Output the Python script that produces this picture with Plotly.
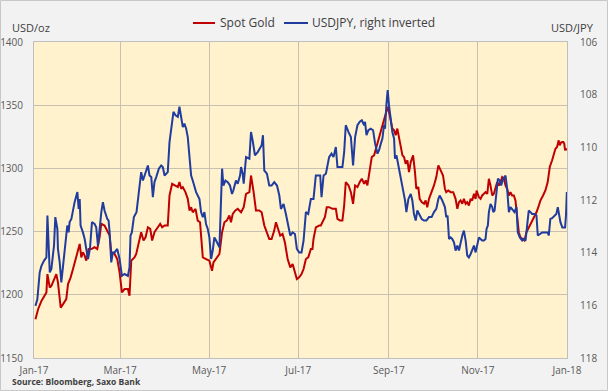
import pandas as pd
import plotly.graph_objects as go

# ---- data ----
# day offsets from 2017-01-01
gold_day = [1.0, 2.8, 5.1, 7.3, 8.5, 9.2, 10.8, 11.9, 13.7, 15.3, 16.4, 18.3, 19.9, 22.1, 23.3, 25.1, 26.7, 28.3, 30.1, 31.3,
            32.4, 33.5, 34.7, 35.8, 37.4, 39.2, 41.5, 43.3, 44.9, 46.1, 48.3, 50.6, 51.8, 52.9, 55.2, 57.0, 58.6, 60.2, 62.0,
            64.3, 65.4, 66.6, 68.8,
            70.0, 71.8, 73.4, 75.0, 76.4, 78.0, 79.6, 80.9, 82.5, 84.8, 86.4, 87.8, 89.4, 91.6, 92.8, 94.6, 96.9, 98.5, 99.6,
            100.8, 101.9, 103.7, 105.3, 106.5, 107.6, 108.7, 110.6, 112.1, 113.7, 115.6, 117.8, 120.1, 121.3, 121.9, 122.9,
            124.7, 127.0, 128.8, 130.4, 132.0, 133.8, 134.9, 136.1, 137.9, 139.5, 140.6,
            141.8, 143.6, 145.2, 147.5, 148.6, 150.4, 152.0, 154.3, 155.9, 157.7, 159.5, 161.1, 162.7, 164.5, 165.7, 167.3,
            168.6, 170.2, 171.8, 173.7, 175.5, 177.1, 178.2, 180.0, 181.6, 183.2, 184.6, 186.2, 187.8, 189.6, 190.7, 191.4,
            193.0, 195.3, 196.4, 198.3, 199.2, 200.5, 202.1, 204.4, 206.7, 207.8, 209.6, 211.2, 212.4,
            213.5, 215.4, 217.0, 218.5, 219.9, 221.5, 223.1, 224.5, 226.1, 227.2, 228.3, 229.5, 231.3, 232.9, 234.5, 236.3,
            238.1, 239.7, 241.3, 242.2, 243.6, 245.4, 246.6, 247.7, 248.8, 250.0, 251.1, 252.3, 253.4, 254.5, 255.7, 256.8,
            258.0, 259.6, 260.9, 261.8, 263.2, 264.1, 265.5, 267.1, 268.2, 269.3, 270.5, 272.3, 273.9, 275.5, 276.9, 278.5,
            280.1, 281.4, 282.3, 283.7,
            285.3, 287.1, 288.7, 289.9, 291.0, 292.1, 293.3, 294.4, 295.6, 296.7, 297.8, 299.0, 300.1, 301.3, 302.4, 303.1,
            304.7, 305.8, 306.9, 308.1, 309.2, 310.4, 311.5, 312.6, 313.8, 314.9, 316.1, 317.2, 318.3, 319.5, 320.6, 321.8,
            322.9, 324.0, 325.2, 326.3, 327.4, 328.6, 329.7, 330.9, 332.0, 333.1, 335.0, 335.9, 337.2, 338.8, 340.4, 342.3,
            344.1, 345.7, 346.8, 348.6, 350.2, 351.8, 353.2, 354.8, 355.9, 357.1, 358.2, 359.3, 360.0, 360.9, 361.8, 362.5,
            363.1, 363.7, 364.3, 364.9]
gold_usd = [1180.7, 1188.6, 1195.2, 1199.2, 1201.9, 1216.4, 1205.8, 1207.1, 1212.4, 1216.4, 1209.8, 1189.9, 1192.6, 1196.6,
            1208.5, 1213.8, 1220.4, 1227.0, 1233.6, 1240.2, 1229.6, 1233.6, 1231.0, 1227.0, 1236.2, 1236.2, 1237.6, 1236.2,
            1245.5, 1256.1, 1254.8, 1249.5, 1246.8, 1233.6, 1232.3, 1228.3, 1217.7, 1201.9, 1204.5, 1204.5, 1199.2, 1227.0,
            1229.6,
            1232.3, 1241.5, 1249.5, 1242.9, 1245.5, 1253.4, 1252.1, 1242.9, 1249.5, 1253.4, 1256.1, 1253.4, 1254.8, 1254.8,
            1278.6, 1287.8, 1286.5, 1285.2, 1289.2, 1283.9, 1285.2, 1281.2, 1275.9, 1266.7, 1269.3, 1265.3, 1268.0, 1258.7,
            1257.4, 1229.6, 1228.3, 1227.0, 1221.7, 1219.0, 1225.7, 1228.3, 1232.3, 1249.5, 1257.4, 1258.7, 1262.7, 1257.4,
            1264.0, 1266.7, 1268.0, 1266.7,
            1265.3, 1269.3, 1279.9, 1281.2, 1294.4, 1281.2, 1266.7, 1266.7, 1265.3, 1254.8, 1249.5, 1244.2, 1244.2, 1250.8,
            1257.4, 1252.1, 1246.8, 1248.1, 1241.5, 1228.3, 1221.7, 1224.3, 1220.4, 1212.4, 1213.8, 1216.4, 1220.4, 1228.3,
            1229.6, 1236.2, 1236.2, 1244.2, 1253.4, 1254.8, 1254.8, 1258.7, 1261.4, 1269.3, 1269.3, 1268.0, 1268.0, 1260.1,
            1258.7, 1258.7, 1270.6,
            1289.2, 1286.5, 1281.2, 1272.0, 1286.5, 1285.2, 1289.2, 1291.8, 1287.8, 1290.5, 1286.5, 1294.4, 1309.0, 1310.3,
            1316.9, 1323.5, 1331.5, 1336.8, 1343.4, 1348.7, 1342.1, 1331.5, 1330.2, 1326.2, 1331.5, 1323.5, 1319.6, 1310.3,
            1309.0, 1303.7, 1306.4, 1297.1, 1305.0, 1310.3, 1297.1, 1283.9, 1285.2, 1275.9, 1273.3, 1272.0, 1274.6, 1269.3,
            1275.9, 1281.2, 1286.5, 1293.1, 1302.4, 1298.4, 1294.4, 1283.9, 1281.2, 1282.5,
            1281.2, 1281.2, 1275.9, 1268.0, 1273.3, 1274.6, 1272.0, 1275.9, 1272.0, 1273.3, 1270.6, 1275.9, 1274.6, 1279.9,
            1275.9, 1282.5, 1277.2, 1275.9, 1278.6, 1279.9, 1281.2, 1279.9, 1291.8, 1286.5, 1278.6, 1279.9, 1285.2, 1289.2,
            1286.5, 1289.2, 1293.1, 1291.8, 1286.5, 1283.9, 1278.6, 1281.2, 1278.6, 1278.6, 1274.6, 1262.7, 1249.5, 1245.5,
            1244.2, 1242.9, 1249.5, 1253.4, 1257.4, 1261.4, 1265.3, 1270.6, 1274.6, 1278.6, 1282.5, 1289.2, 1301.1, 1306.4,
            1311.6, 1315.6, 1316.9, 1322.2, 1318.3, 1320.4, 1320.9, 1320.9, 1319.6, 1314.3, 1315.6, 1314.3]

jpy_day = [1.0, 2.3, 3.9, 5.1, 6.9, 8.5, 9.2, 10.1, 10.8, 11.9, 13.0, 13.7, 14.6, 16.0, 16.4, 17.6, 18.7, 19.9, 21.0, 22.8,
           23.7, 24.4, 25.6, 26.7, 27.8, 29.7, 30.6, 31.3, 31.9, 33.5, 34.7, 35.8, 37.0, 38.3, 39.7, 41.5, 42.6, 43.8, 44.9,
           46.1, 47.2, 48.3, 50.2, 51.1, 51.8, 52.9, 54.0, 55.2, 57.0, 58.6, 60.2, 62.0, 64.3, 65.4, 66.1, 67.0, 68.4, 70.2,
           71.8, 73.4, 74.6, 75.7, 76.8, 78.0, 79.1, 80.3, 81.4, 82.5, 83.7, 85.5, 87.1, 88.2, 89.4, 91.6, 92.8, 94.6, 95.5,
           96.9, 98.5, 99.6, 100.8, 101.9, 103.0, 104.2, 105.3, 106.5, 107.6, 108.7, 109.9, 111.0, 113.3, 114.4, 115.6,
           116.7, 117.8, 119.0, 120.1, 121.3, 122.4, 123.5, 124.7, 125.8, 127.0, 128.8, 129.7, 131.1, 132.7, 134.2, 135.6,
           136.5, 138.3, 139.5, 141.1,
           141.8, 142.9, 143.6, 144.5, 145.2, 147.5, 148.6, 149.7, 151.3, 153.2, 155.0, 155.9, 156.8, 157.7, 159.5, 161.1,
           162.7, 164.5, 166.4, 168.0, 169.1, 170.9, 172.5, 174.1, 175.5, 177.1, 178.7, 180.0, 181.6, 183.2, 184.6, 186.2,
           187.8, 189.6, 191.4, 193.0, 194.6, 196.0, 196.9, 198.3, 199.9, 201.0, 202.1, 203.7, 205.1, 206.7, 207.8, 209.6,
           211.2, 212.4,
           213.5, 215.4, 217.0, 218.5, 219.9, 221.5, 223.1, 224.5, 226.1, 226.7, 227.7, 229.0, 230.6, 232.2, 233.6, 235.2,
           236.3, 237.5, 238.6, 239.7, 240.4, 241.3, 242.2, 243.1, 244.3, 245.4, 246.6, 247.2, 248.2, 249.5, 251.1, 252.7,
           254.1, 255.0, 256.4, 258.0, 259.1, 260.2, 261.4, 262.5, 264.1, 265.5, 267.1, 268.7, 270.5, 272.3, 273.9, 275.5,
           276.9, 277.8, 279.6, 281.4, 282.3, 283.2, 284.2,
           285.3, 286.4, 287.6, 288.7, 289.9, 291.0, 292.1, 293.3, 294.4, 295.6, 296.7, 297.8, 299.0, 300.1, 301.3, 302.4,
           303.5, 304.7, 305.8, 306.9, 308.1, 309.2, 309.9, 310.8, 311.5, 312.6, 313.8, 314.5, 315.4, 316.7, 317.7, 319.0,
           319.9, 321.3, 322.2, 322.9, 324.0, 325.2, 326.3, 328.1, 329.0, 330.4, 331.3, 332.7, 334.3, 335.4, 336.6, 337.7,
           338.8, 340.0, 341.1, 342.7, 344.1, 345.0, 346.4, 348.0, 350.2, 351.8, 352.5, 353.6, 354.8, 356.4, 357.7, 358.7,
           359.3, 360.5, 361.8, 363.0, 363.7, 364.3, 364.9]
jpy_rate = [116.02, 115.77, 114.75, 114.50, 114.30, 114.18, 112.59, 113.73, 114.75, 114.62, 114.11, 113.73, 112.65, 113.10,
            113.86, 114.37, 115.13, 114.50, 113.86, 112.97, 113.23, 112.84, 112.72, 112.40, 112.08, 111.70, 112.34, 111.96,
            112.97, 113.23, 113.48, 113.86, 114.24, 113.86, 112.84, 112.91, 113.04, 113.73, 112.97, 112.46, 112.08, 112.40,
            112.72, 112.78, 113.23, 114.37, 113.99, 113.99, 113.86, 114.24, 114.88, 114.81, 114.88, 114.56, 113.35, 113.23,
            112.65, 112.46,
            111.70, 110.94, 111.26, 111.07, 110.88, 110.69, 111.07, 111.13, 111.89, 111.32, 111.13, 110.81, 110.69, 110.75,
            111.07, 110.94, 109.80, 109.03, 108.65, 108.78, 108.84, 108.46, 108.91, 109.23, 109.10, 109.29, 109.61, 110.30,
            111.07, 111.26, 111.45, 111.70, 111.96, 112.46, 112.65, 112.46, 112.91, 113.10, 113.42, 114.24, 113.92, 113.42,
            113.54, 113.67, 113.80, 110.81, 111.45, 111.26, 111.32, 111.45, 111.77, 111.64, 111.26, 111.38, 111.07,
            110.75, 111.00, 111.38, 110.81, 110.37, 110.43, 109.42, 109.73, 110.30, 110.18, 109.99, 109.92, 109.54, 110.88,
            111.00, 111.45, 111.45, 111.32, 111.45, 111.83, 112.34, 112.15, 112.53, 112.97, 113.35, 113.23, 113.29, 113.86,
            113.99, 113.99, 113.54, 112.46, 112.53, 111.96, 111.96, 111.07, 111.07, 111.07, 111.89, 111.07, 111.00, 110.62,
            110.37, 110.24, 110.37, 109.99, 110.75, 110.75, 110.75, 110.18,
            109.16, 109.42, 109.61, 110.69, 109.61, 109.16, 109.03, 108.97, 109.16, 109.03, 109.54, 109.35, 109.29, 109.35,
            109.86, 110.24, 110.11, 109.86, 109.67, 109.16, 109.29, 108.40, 107.83, 108.40, 109.03, 109.42, 109.67, 110.43,
            110.30, 110.69, 111.13, 111.57, 112.02, 112.46, 111.96, 111.77, 112.02, 112.53, 112.78, 112.40, 112.59, 112.72,
            112.78, 112.78, 112.65, 112.65, 112.46, 112.34, 111.96, 111.83, 112.02, 112.27, 112.65, 112.59, 113.48,
            113.42, 113.48, 113.61, 113.92, 113.73, 113.92, 113.61, 113.35, 113.16, 113.54, 114.11, 114.18, 114.05, 113.86,
            113.73, 113.99, 113.67, 113.42, 113.48, 113.54, 113.54, 113.48, 113.10, 112.97, 112.46, 112.15, 112.27, 112.46,
            112.40, 111.57, 111.19, 111.26, 111.45, 111.19, 111.13, 111.07, 111.57, 112.46, 112.27, 112.40, 112.46, 112.27,
            113.23, 113.42, 113.54, 113.48, 113.54, 112.97, 112.40, 112.46, 112.53, 112.53, 112.59, 113.35, 113.29, 113.23,
            113.23, 113.23, 113.35, 112.72, 112.69, 112.59, 112.53, 112.27, 112.53, 112.84, 113.04, 113.04, 113.04, 112.59,
            111.70]

x_ticks = ["2017-01-01", "2017-03-01", "2017-05-01", "2017-07-01", "2017-09-01", "2017-11-01", "2018-01-01"]
x_labels = ["Jan-17", "Mar-17", "May-17", "Jul-17", "Sep-17", "Nov-17", "Jan-18"]
gold_ticks = [1150, 1200, 1250, 1300, 1350, 1400]
jpy_ticks = [106, 108, 110, 112, 114, 116, 118]
series_names = ["Spot Gold", "USDJPY, right inverted"]
series_colors = ["#C00000", "#1F3C9E"]

if len(gold_day) != len(gold_usd) or len(jpy_day) != len(jpy_rate):
    raise SystemExit(f"length mismatch gold {len(gold_day)}/{len(gold_usd)} jpy {len(jpy_day)}/{len(jpy_rate)}")

base = pd.Timestamp("2017-01-01")
gold_dates = base + pd.to_timedelta(gold_day, unit="D")
jpy_dates = base + pd.to_timedelta(jpy_day, unit="D")

FONT = "Open Sans"
W, H = 608, 391
L, R, T, B = 34, 41, 42, 33
PW, PH = W - L - R, H - T - B


def px(xpix):  # figure pixel -> paper x
    return (xpix - L) / PW


def py(ypix):  # figure pixel -> paper y
    return (H - B - ypix) / PH


fig = go.Figure()
fig.add_trace(go.Scatter(x=gold_dates, y=gold_usd, name=series_names[0], mode="lines",
                         line=dict(color=series_colors[0], width=2), showlegend=False))
fig.add_trace(go.Scatter(x=jpy_dates, y=jpy_rate, name=series_names[1], mode="lines",
                         yaxis="y2", line=dict(color=series_colors[1], width=2), showlegend=False))

# legend drawn as line samples + labels above the plot
legend_shapes = []
legend_annots = []
for (x0, x1, xt), name, col in zip([(193, 215, 218), (284, 308, 310)], series_names, series_colors):
    legend_shapes.append(dict(type="line", xref="paper", yref="paper", x0=px(x0), x1=px(x1),
                              y0=py(23), y1=py(23), line=dict(color=col, width=2)))
    legend_annots.append(dict(text=name, xref="paper", yref="paper", x=px(xt), y=py(23),
                              xanchor="left", yanchor="middle", showarrow=False,
                              font=dict(size=12, color="#404040")))

fig.update_layout(
    width=W, height=H,
    margin=dict(l=L, r=R, t=T, b=B, autoexpand=False),
    paper_bgcolor="#F2F2F2", plot_bgcolor="#FFF2CC",
    font=dict(family=FONT, size=10, color="#595959"),
    showlegend=False,
    xaxis=dict(type="date", range=["2017-01-01", "2018-01-01"], tickvals=x_ticks, ticktext=x_labels,
               showgrid=True, gridcolor="#C8C0B0", gridwidth=1, automargin=False,
               showline=True, linecolor="#BFBFBF", mirror=True,
               ticks="outside", ticklen=3, tickcolor="rgba(0,0,0,0)",
               tickfont=dict(size=10, color="#595959")),
    yaxis=dict(range=[1150, 1400], tickvals=gold_ticks, showgrid=True, gridcolor="#C8C0B0",
               showline=True, linecolor="#BFBFBF", mirror=True, zeroline=False, automargin=False,
               ticks="outside", ticklen=8, tickcolor="rgba(0,0,0,0)",
               tickfont=dict(size=10, color="#595959")),
    yaxis2=dict(range=[118, 106], tickvals=jpy_ticks, overlaying="y", side="right",
                showgrid=False, zeroline=False, showline=False, automargin=False,
                ticks="outside", ticklen=10, tickcolor="rgba(0,0,0,0)",
                tickfont=dict(size=10, color="#595959")),
    annotations=legend_annots + [
        dict(text="USD/oz", xref="paper", yref="paper", x=px(10), y=py(28), xanchor="left", yanchor="middle",
             showarrow=False, font=dict(size=11, color="#404040")),
        dict(text="USD/JPY", xref="paper", yref="paper", x=px(596), y=py(28), xanchor="right", yanchor="middle",
             showarrow=False, font=dict(size=11, color="#404040")),
        dict(text="<b>Source: Bloomberg, Saxo Bank</b>", xref="paper", yref="paper", x=px(10), y=py(381),
             xanchor="left", yanchor="middle", showarrow=False, font=dict(size=8.5, color="#404040")),
    ],
    shapes=legend_shapes + [
        dict(type="rect", xref="paper", yref="paper", x0=px(0.5), x1=px(607.5), y0=py(390.5), y1=py(0.5),
             line=dict(color="#C8C8C8", width=1), fillcolor="rgba(0,0,0,0)", layer="below")],
)

fig.write_html("out.html", config={"displayModeBar": False},
               post_script="document.body.style.margin='0';document.body.style.overflow='hidden';")
